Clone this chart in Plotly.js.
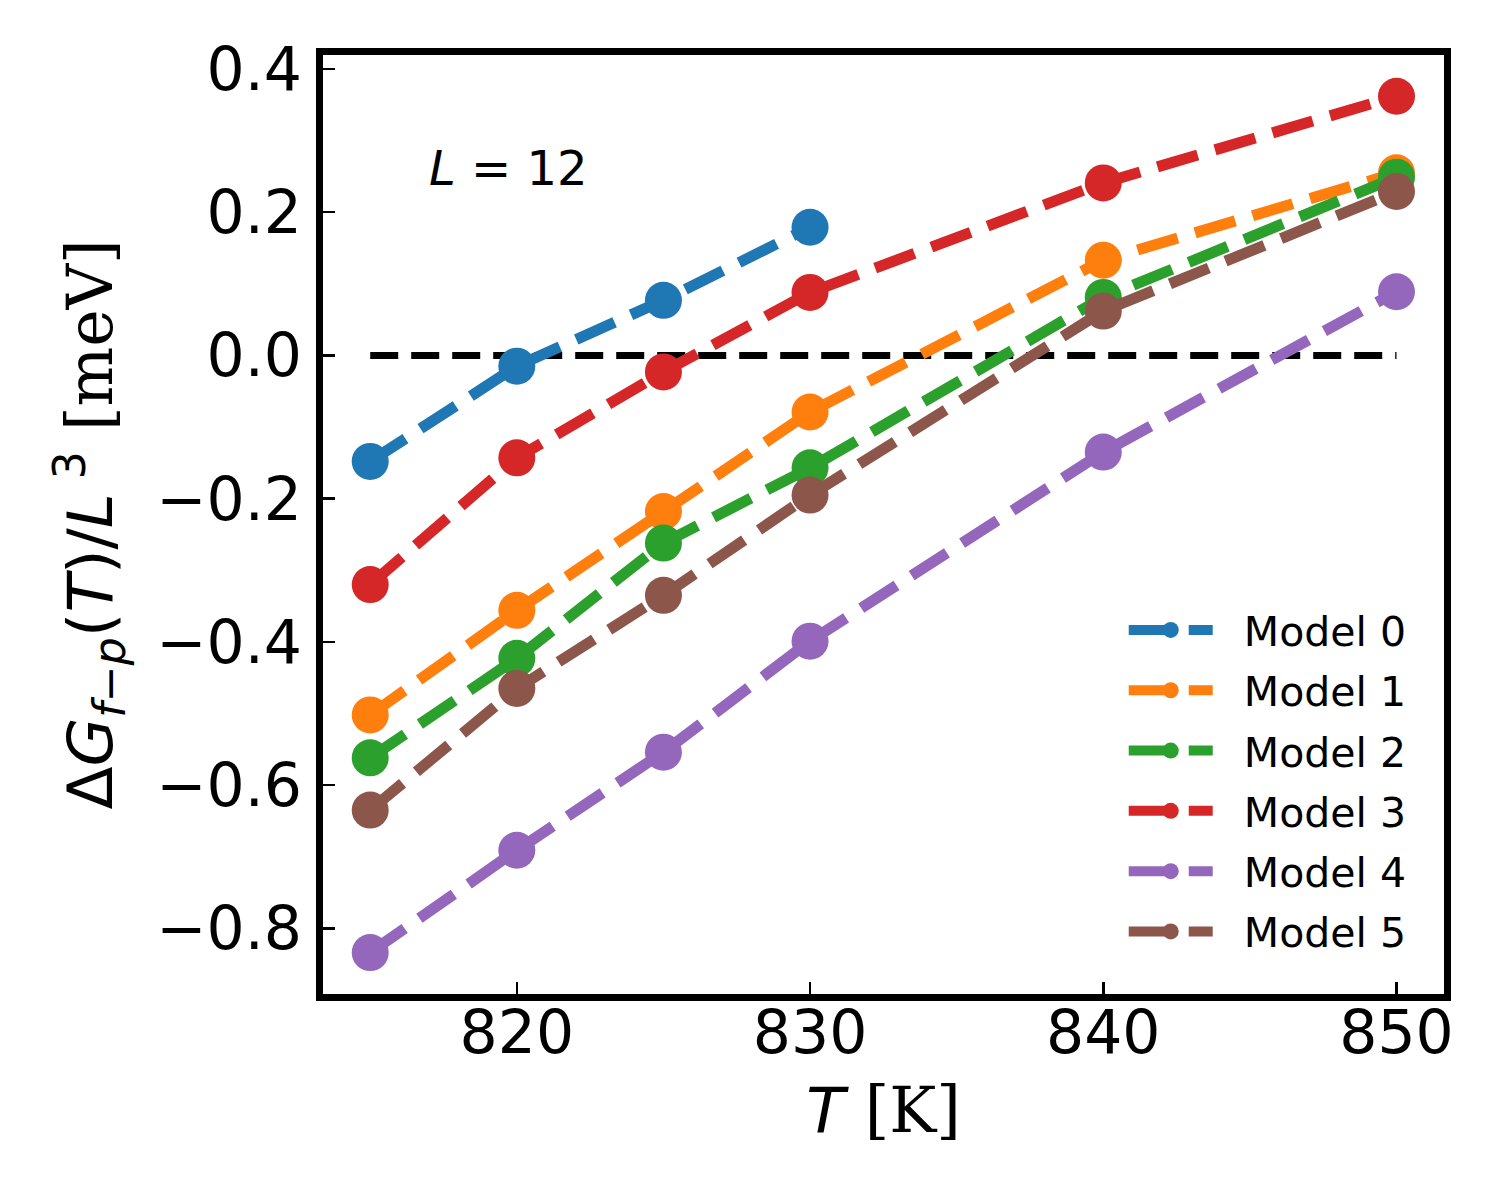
<!DOCTYPE html>
<html>
<head>
<meta charset="utf-8">
<script src="https://cdn.plot.ly/plotly-3.0.1.min.js"></script>
<style>
  html, body { margin: 0; padding: 0; background: #fff; }
  #chart { width: 1500px; height: 1200px; }
</style>
</head>
<body>
<div id="chart"></div>
<script>
/* ΔG_{f-p}(T)/L^3 for L = 12, six models, dashed lines + markers */

var temps      = [815, 820, 825, 830, 840, 850];
var tempsShort = [815, 820, 825, 830];

var model0 = [-0.148, -0.015, 0.077, 0.179];
var model1 = [-0.502, -0.356, -0.218, -0.079, 0.133, 0.255];
var model2 = [-0.562, -0.423, -0.262, -0.157, 0.081, 0.249];
var model3 = [-0.320, -0.143, -0.023, 0.088, 0.241, 0.362];
var model4 = [-0.834, -0.691, -0.554, -0.399, -0.135, 0.089];
var model5 = [-0.635, -0.465, -0.335, -0.195, 0.062, 0.229];

var zeroX = [815, 850];
var zeroY = [0, 0];

var xTicks = [820, 830, 840, 850];
var yTicks = [-0.8, -0.6, -0.4, -0.2, 0.0, 0.2, 0.4];

var names  = ['Model 0', 'Model 1', 'Model 2', 'Model 3', 'Model 4', 'Model 5'];
var colors = ['#1f77b4', '#ff7f0e', '#2ca02c', '#d62728', '#9467bd', '#8c564b'];

var FONT  = 'DejaVu Sans, sans-serif';
var SERIF = 'DejaVu Serif';

function modelTrace(i, xs, ys) {
  return {
    type: 'scatter', mode: 'lines+markers',
    // two no-break spaces push the label away from the (long) legend handle
    name: '\u00a0\u00a0' + names[i], legendgroup: 'g' + i,
    x: xs, y: ys,
    line: { color: colors[i], width: 11, dash: '42px,18px' },
    marker: { color: colors[i], size: 37 }
  };
}

var traces = [
  {
    type: 'scatter', mode: 'lines', showlegend: false,
    x: zeroX, y: zeroY,
    line: { color: '#000', width: 7, dash: '28px,13px' }
  },
  modelTrace(0, tempsShort, model0),
  modelTrace(1, temps, model1),
  modelTrace(2, temps, model2),
  modelTrace(3, temps, model3),
  modelTrace(4, temps, model4),
  modelTrace(5, temps, model5)
];

var axisBase = {
  showgrid: false, zeroline: false,
  showline: true, mirror: true, linecolor: '#000', linewidth: 7,
  ticks: 'inside', ticklen: 12, tickwidth: 2.5, tickcolor: '#000',
  tickfont: { family: FONT, size: 60, color: '#000' }
};

var layout = {
  width: 1500, height: 1200,
  paper_bgcolor: '#fff', plot_bgcolor: '#fff',
  font: { family: FONT, color: '#000' },
  margin: { l: 323, r: 56, t: 55, b: 206 },
  showlegend: true,
  legend: {
    x: 0.7143, y: 0.423, xanchor: 'left', yanchor: 'top',
    bgcolor: 'rgba(0,0,0,0)', borderwidth: 0,
    font: { family: FONT, size: 41, color: '#000' },
    traceorder: 'grouped', tracegroupgap: 4, itemwidth: 84
  },
  xaxis: Object.assign({}, axisBase, {
    range: [813.39, 851.62],
    tickvals: xTicks,
    ticktext: xTicks.map(String),
    ticklabelstandoff: -20,
    title: {
      text: '<i>T</i> <span style="font-family:' + SERIF + '">[K]</span>',
      font: { family: FONT, size: 63, color: '#000' },
      standoff: 24
    }
  }),
  yaxis: Object.assign({}, axisBase, {
    range: [-0.8918, 0.4196],
    tickvals: yTicks,
    ticktext: yTicks.map(function (v) { return (v < 0 ? '\u2212' : '') + Math.abs(v).toFixed(1); }),
    ticklabelstandoff: 2,
    title: {
      text: 'Δ<i>G</i><sub><i>f</i>−<i>p</i></sub>(<i>T</i>)/<i>L</i><sup> 3</sup> ' +
            '<span style="font-family:' + SERIF + '">[meV]</span>',
      font: { family: FONT, size: 63, color: '#000' },
      standoff: 26
    }
  }),
  annotations: [{
    xref: 'paper', yref: 'paper', x: 0.1653, y: 0.8796,
    xanchor: 'center', yanchor: 'middle', showarrow: false,
    text: '<i>L</i> = 12',
    font: { family: FONT, size: 48, color: '#000' }
  }]
};

Plotly.newPlot('chart', traces, layout, { displayModeBar: false, staticPlot: true });
</script>
</body>
</html>
